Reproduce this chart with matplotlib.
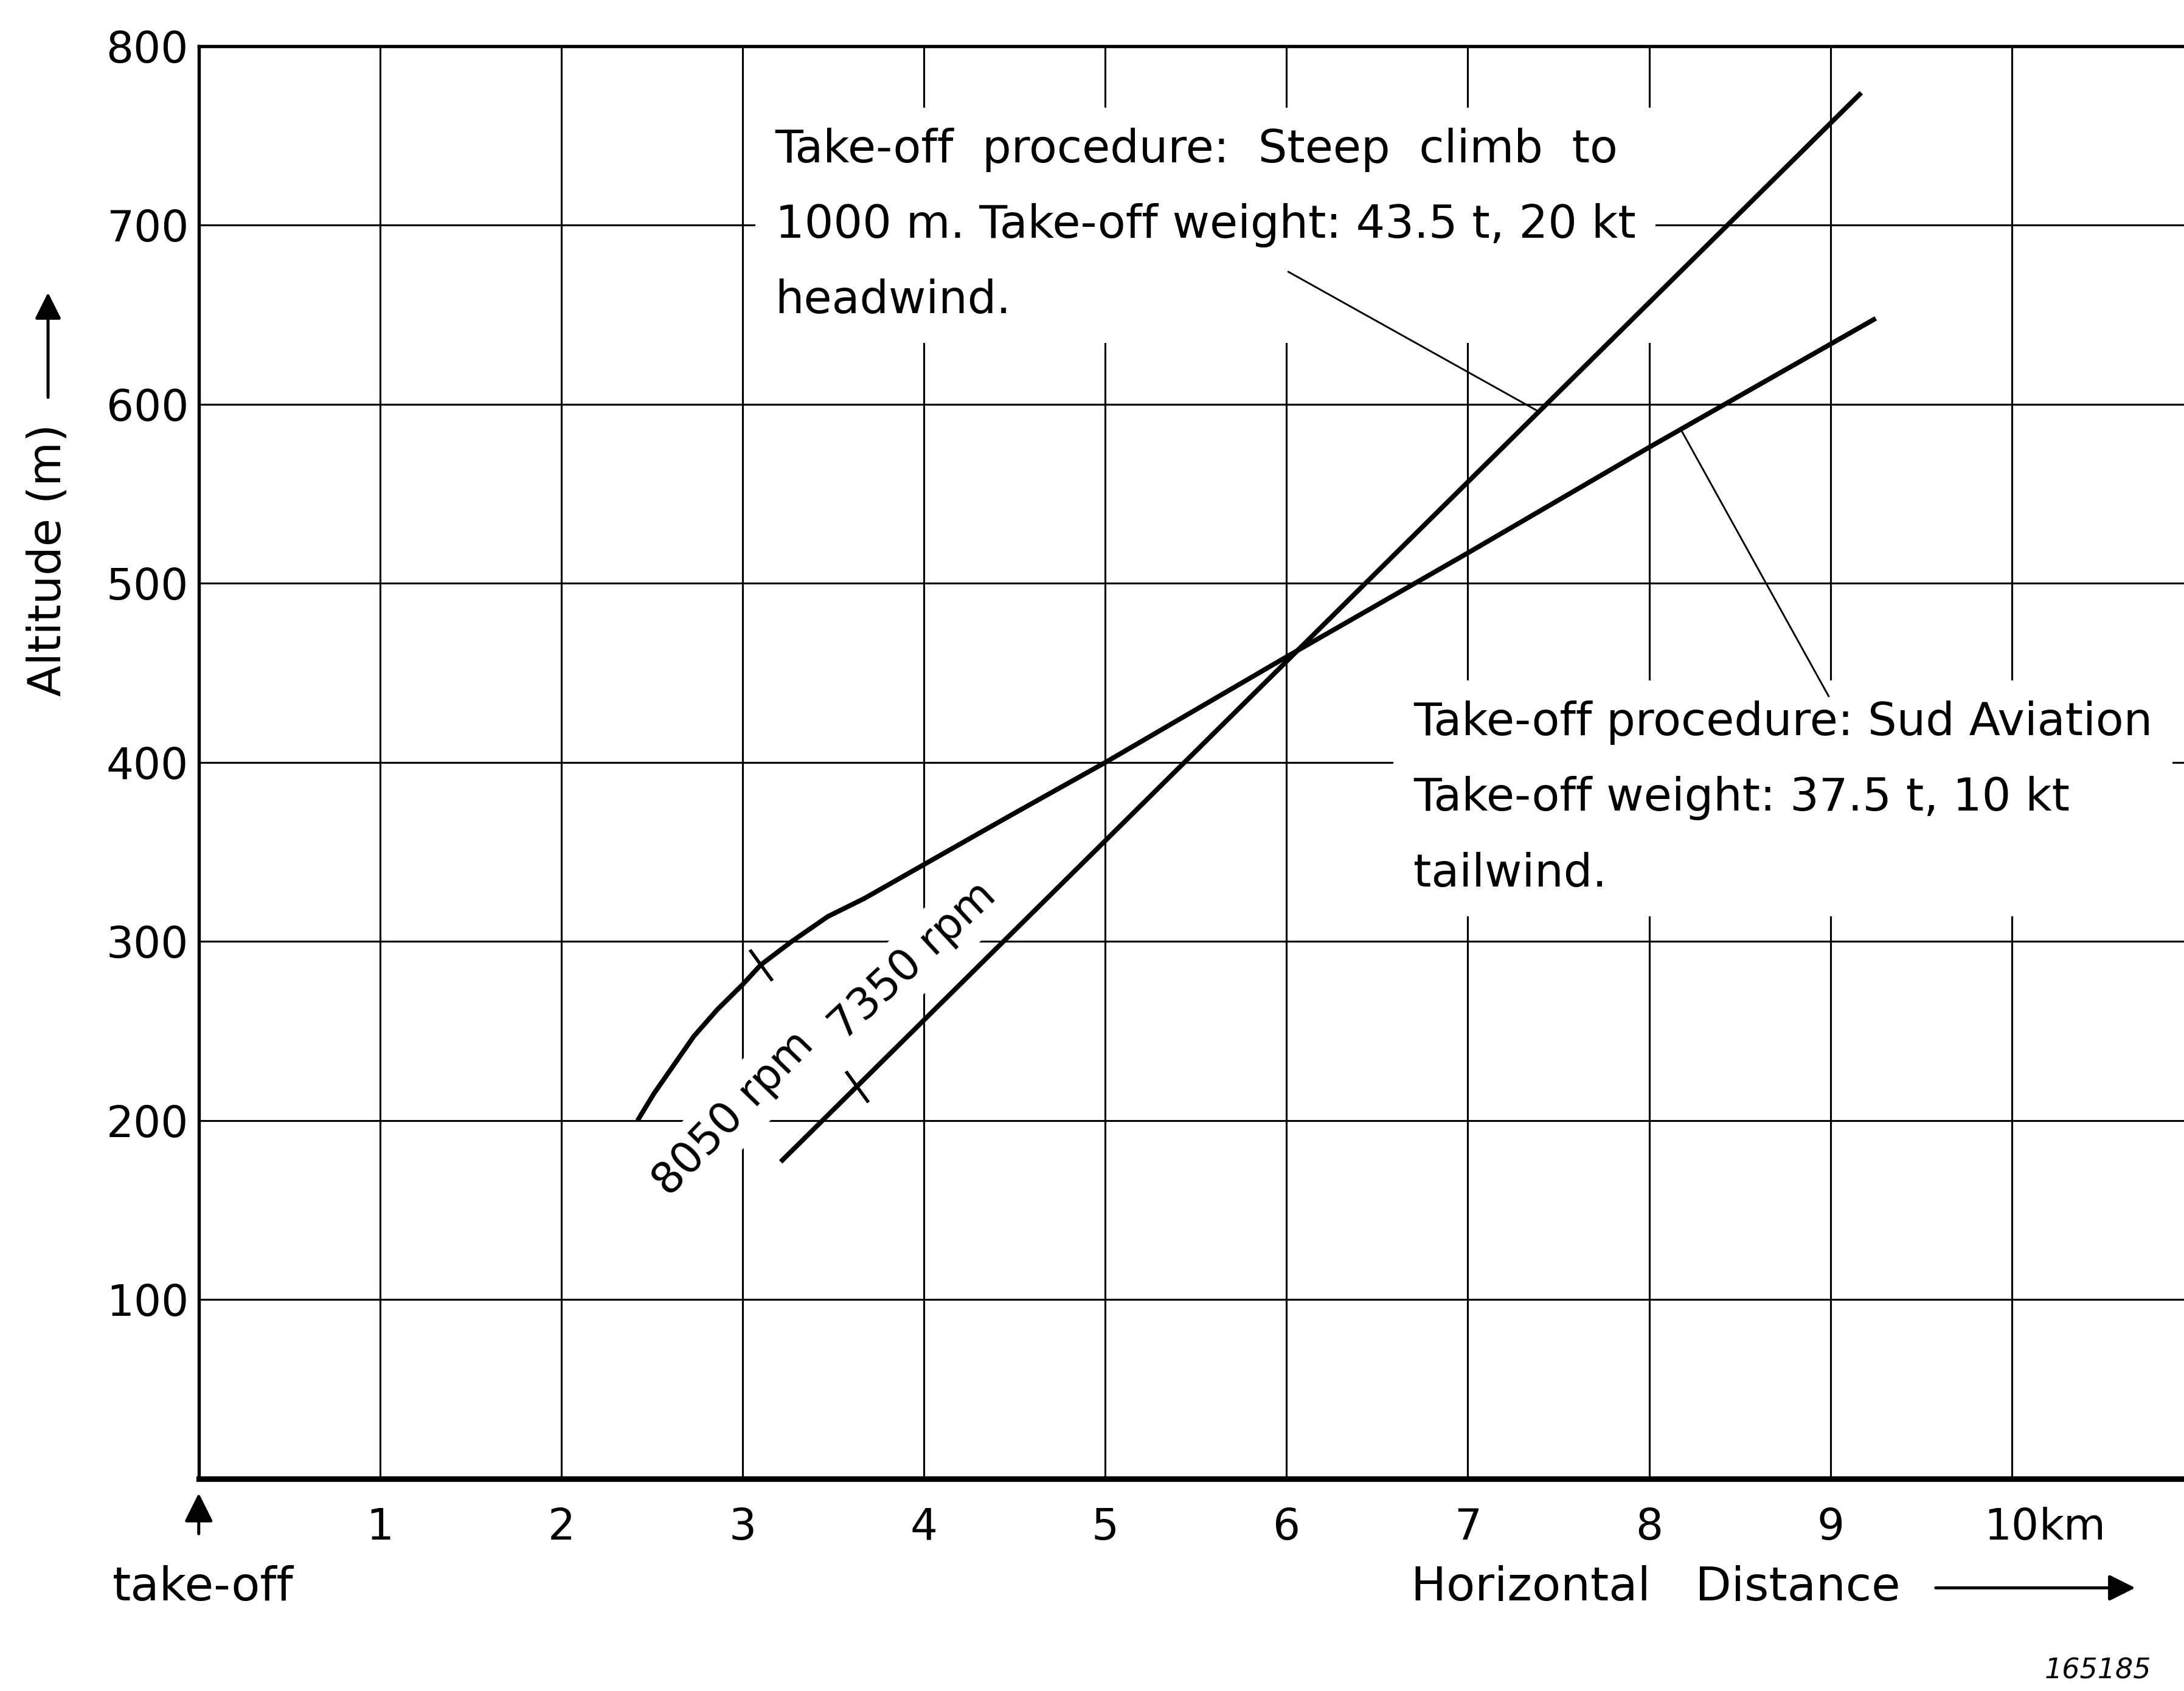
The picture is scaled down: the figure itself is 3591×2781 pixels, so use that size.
import numpy as np
import matplotlib.pyplot as plt

# values
dist_ticks = [1, 2, 3, 4, 5, 6, 7, 8, 9, 10]
alt_ticks = [100, 200, 300, 400, 500, 600, 700, 800]

# steep climb to 1000 m, 43.5 t, 20 kt headwind
steep_x = [3.21, 9.17]
steep_y = [177, 774]

# Sud Aviation procedure, 37.5 t, 10 kt tailwind
sud_x = [2.42, 2.51, 2.62, 2.73, 2.86, 3.00, 3.10, 3.27, 3.47, 3.67, 4.00, 4.47,
         5.00, 6.00, 7.00, 8.00, 9.25]
sud_y = [200, 215, 231, 247, 262, 276, 287, 300, 314, 324, 343, 370,
         400, 459, 517, 576, 648]

# 8050 -> 7350 rpm power cut marks
cut_x = [3.10, 3.63]
cut_y = [287, 219]

plt.rcParams['font.family'] = ['DejaVu Sans']
fs = 17
fs_note = 18

fig = plt.figure(figsize=(11.97, 9.27), dpi=300)
ax = fig.add_axes([0.091, 0.1255, 0.909, 0.8472])
ax.set_xlim(0, 10.95)
ax.set_ylim(0, 800)

ax.set_xticks(dist_ticks)
ax.set_xticklabels([str(v) for v in dist_ticks])
ax.set_yticks(alt_ticks)
ax.set_yticklabels([str(v) for v in alt_ticks])
ax.tick_params(length=0, labelsize=fs)
ax.tick_params(axis='x', pad=11)
ax.tick_params(axis='y', pad=4)
ax.grid(True, color='black', linewidth=0.75)
ax.set_axisbelow(True)

ax.spines['right'].set_visible(False)
ax.spines['left'].set_linewidth(1.3)
ax.spines['top'].set_linewidth(1.3)
ax.spines['bottom'].set_linewidth(2.2)

ax.plot(steep_x, steep_y, color='black', linewidth=1.9, zorder=5,
        solid_capstyle='butt', solid_joinstyle='round')
ax.plot(sud_x, sud_y, color='black', linewidth=1.9, zorder=5,
        solid_capstyle='butt', solid_joinstyle='round')
ax.plot(cut_x, cut_y, linestyle='none', marker=(2, 2, 36), markersize=15,
        markeredgewidth=1.2, color='black', zorder=5)

box = dict(facecolor='white', edgecolor='none', pad=4)
ax.text(2.95, 204, '8050 rpm', rotation=46, fontsize=fs, ha='center', va='center',
        bbox=box, zorder=3, rotation_mode='anchor')
ax.text(3.94, 289, '7350 rpm', rotation=43, fontsize=fs, ha='center', va='center',
        bbox=box, zorder=3, rotation_mode='anchor')

ax.text(3.18, 700, 'Take-off  procedure:  Steep  climb  to\n'
        '1000 m. Take-off weight: 43.5 t, 20 kt\nheadwind.',
        fontsize=fs_note, ha='left', va='center', linespacing=1.9,
        bbox=dict(facecolor='white', edgecolor='none', pad=8), zorder=3)
ax.text(6.70, 380, 'Take-off procedure: Sud Aviation\n'
        'Take-off weight: 37.5 t, 10 kt\ntailwind.',
        fontsize=fs_note, ha='left', va='center', linespacing=1.9,
        bbox=dict(facecolor='white', edgecolor='none', pad=8), zorder=3)

# leader lines
ax.plot([6.01, 7.39], [674, 596], color='black', linewidth=0.7, zorder=4)
ax.plot([8.18, 8.99], [585, 437], color='black', linewidth=0.7, zorder=4)

# km after the 10
ax.text(10.15, -0.0194, 'km', transform=ax.get_xaxis_transform(), fontsize=fs,
        ha='left', va='top')

# take-off marker below the origin
ax.annotate('', xy=(0.091, 0.120), xytext=(0.091, 0.090), xycoords='figure fraction',
            arrowprops=dict(arrowstyle='-|>', color='black', lw=1.2, mutation_scale=24))
fig.text(0.093, 0.061, 'take-off', fontsize=18.5, ha='center', va='center')

# axis titles with arrows
fig.text(0.646, 0.061, 'Horizontal   Distance', fontsize=18.5, ha='left', va='center')
ax.annotate('', xy=(0.980, 0.061), xytext=(0.884, 0.061), xycoords='figure fraction',
            arrowprops=dict(arrowstyle='-|>', color='black', lw=1.2, mutation_scale=22))
fig.text(0.022, 0.669, 'Altitude (m)', fontsize=18, rotation=90, ha='center', va='center')
ax.annotate('', xy=(0.022, 0.830), xytext=(0.022, 0.762), xycoords='figure fraction',
            arrowprops=dict(arrowstyle='-|>', color='black', lw=1.2, mutation_scale=22))

fig.text(0.985, 0.012, '165185', fontsize=11, style='italic', ha='right', va='center')

fig.savefig('out.png', dpi=300)
